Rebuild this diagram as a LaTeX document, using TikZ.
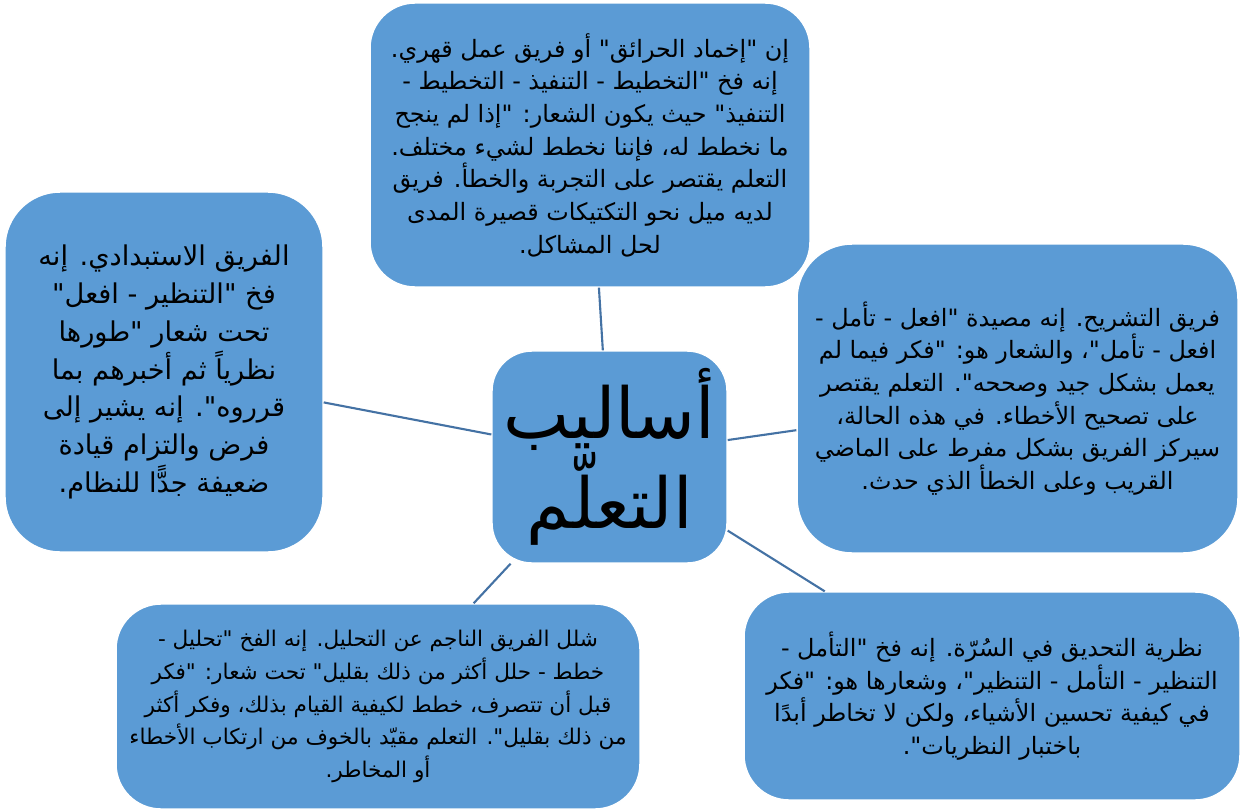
\documentclass[tikz,border=0pt]{standalone}
\usepackage{fontspec}
\newfontfamily\arabicfont[Script=Arabic]{DejaVu Sans}
\TeXXeTstate=1
\newcommand{\arl}[1]{\beginR#1\endR}

\definecolor{boxblue}{RGB}{91,155,213}
\definecolor{linkblue}{RGB}{68,114,164}

\tikzset{
  idea/.style={draw=white, line width=0.8pt, fill=boxblue, rounded corners=0.9cm,
    align=center, inner sep=0pt, font=\arabicfont\fontsize{13.6}{18.6}\selectfont},
  hub/.style={idea, rounded corners=0.8cm, font=\arabicfont\fontsize{40}{50}\selectfont},
  link/.style={draw=linkblue, line width=1.2pt},
}

\begin{document}
\begin{tikzpicture}[x=0.02cm,y=-0.02cm]
  \useasboundingbox (0,0) rectangle (1240,811);

  \node[hub, minimum width=4.7cm, minimum height=4.24cm] (hub) at (609.5,457)
    {\arl{أساليب}\\\arl{التعلّم}};

  % the five team traps
  \node[idea, minimum width=8.8cm, minimum height=5.68cm] (fire) at (590,145)
    {\arl{إن "إخماد الحرائق" أو فريق عمل قهري.}\\
     \arl{إنه فخ "التخطيط - التنفيذ - التخطيط -}\\
     \arl{التنفيذ" حيث يكون الشعار: "إذا لم ينجح}\\
     \arl{ما نخطط له، فإننا نخطط لشيء مختلف.}\\
     \arl{التعلم يقتصر على التجربة والخطأ. فريق}\\
     \arl{لديه ميل نحو التكتيكات قصيرة المدى}\\
     \arl{لحل المشاكل.}};
  \node[idea, rounded corners=1.1cm, minimum width=6.36cm, minimum height=7.2cm,
    font=\arabicfont\fontsize{15.5}{21.5}\selectfont] (autocratic) at (164,372)
    {\arl{الفريق الاستبدادي. إنه}\\
     \arl{فخ "التنظير - افعل"}\\
     \arl{تحت شعار "طورها}\\
     \arl{نظرياً ثم أخبرهم بما}\\
     \arl{قرروه". إنه يشير إلى}\\
     \arl{فرض والتزام قيادة}\\
     \arl{ضعيفة جدًّا للنظام.}};
  \node[idea, rounded corners=1.1cm, minimum width=8.82cm, minimum height=6.18cm] (postmortem) at (1017.5,398.5)
    {\arl{فريق التشريح. إنه مصيدة "افعل - تأمل -}\\
     \arl{افعل - تأمل"، والشعار هو: "فكر فيما لم}\\
     \arl{يعمل بشكل جيد وصححه". التعلم يقتصر}\\
     \arl{على تصحيح الأخطاء. في هذه الحالة،}\\
     \arl{سيركز الفريق بشكل مفرط على الماضي}\\
     \arl{القريب وعلى الخطأ الذي حدث.}};
  \node[idea, minimum width=10.48cm, minimum height=4.1cm,
    font=\arabicfont\fontsize{12.3}{18.6}\selectfont] (paralysis) at (378,706.5)
    {\arl{شلل الفريق الناجم عن التحليل. إنه الفخ "تحليل -}\\
     \arl{خطط - حلل أكثر من ذلك بقليل" تحت شعار: "فكر}\\
     \arl{قبل أن تتصرف، خطط لكيفية القيام بذلك، وفكر أكثر}\\
     \arl{من ذلك بقليل". التعلم مقيّد بالخوف من ارتكاب الأخطاء}\\
     \arl{أو المخاطر.}};
  \node[idea, minimum width=9.92cm, minimum height=4.16cm] (navel) at (992,696)
    {\arl{نظرية التحديق في السُرّة. إنه فخ "التأمل -}\\
     \arl{التنظير - التأمل - التنظير"، وشعارها هو: "فكر}\\
     \arl{في كيفية تحسين الأشياء، ولكن لا تخاطر أبدًا}\\
     \arl{باختبار النظريات".}};

  \draw[link] (hub) -- (fire);
  \draw[link] (hub) -- (autocratic);
  \draw[link] (hub) -- (postmortem);
  \draw[link] (hub) -- (paralysis);
  \draw[link] (hub) -- (navel);
\end{tikzpicture}
\end{document}
